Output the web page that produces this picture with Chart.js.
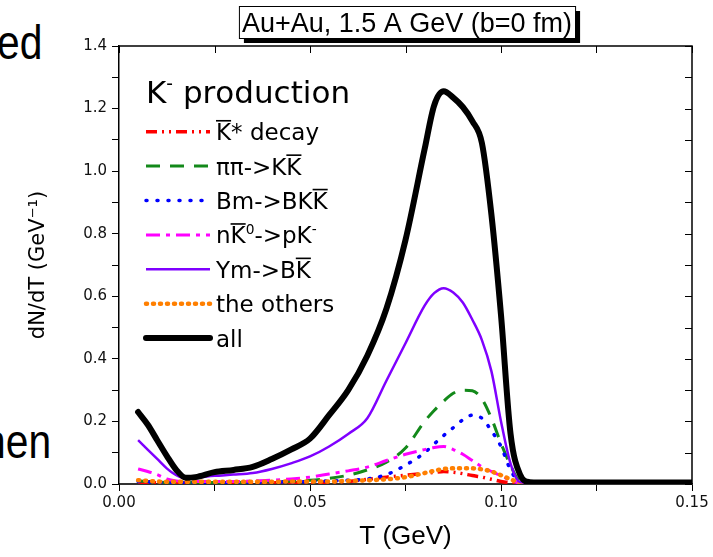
<!DOCTYPE html>
<html>
<head>
<meta charset="utf-8">
<script src="https://cdn.jsdelivr.net/npm/chart.js@4"></script>
<style>
    html, body { margin: 0; padding: 0; background: #fff; overflow: hidden; }
    #wrap { position: relative; width: 713px; height: 557px; }
    #chart { position: absolute; left: 0; top: 0; }
    .slide { position: absolute; font-family: "Liberation Sans", Arial, sans-serif; font-size: 48px; line-height: 1; color: #000;
             transform: scaleX(0.85); transform-origin: left top; white-space: nowrap; }
</style>
</head>
<body>
<div id="wrap">
    <div class="slide" style="left:-3px; top:19px;">ed</div>
    <div class="slide" style="left:-17px; top:418px;">hen</div>
    <canvas id="chart" width="713" height="557"></canvas>
</div>
<script>
// T values (GeV)
const tValues = [0.005, 0.0075, 0.01, 0.0125, 0.015, 0.0175, 0.02, 0.025, 0.03, 0.035,
    0.04, 0.045, 0.05, 0.055, 0.06, 0.065, 0.07, 0.075, 0.08, 0.0825,
    0.085, 0.0875, 0.09, 0.0925, 0.095, 0.0975, 0.1, 0.1025, 0.105, 0.1075,
    0.11, 0.12, 0.13, 0.14, 0.15];

// dN/dT (GeV^-1) per channel
const kStarDecay = [0.006, 0.005, 0.004, 0.004, 0.004, 0.004, 0.004, 0.004, 0.004, 0.004,
    0.004, 0.005, 0.005, 0.006, 0.008, 0.015, 0.022, 0.028, 0.034, 0.037,
    0.04, 0.038, 0.033, 0.027, 0.022, 0.015, 0.008, 0.004, 0.002, 0.002,
    0.002, 0.002, 0.002, 0.002, 0.002];
const pipiToKK = [0.01, 0.008, 0.006, 0.005, 0.005, 0.005, 0.005, 0.005, 0.005, 0.006,
    0.007, 0.009, 0.012, 0.018, 0.028, 0.045, 0.07, 0.115, 0.2, 0.235,
    0.265, 0.29, 0.3, 0.298, 0.272, 0.21, 0.13, 0.06, 0.008, 0.004,
    0.003, 0.003, 0.003, 0.003, 0.003];
const bmToBKK = [0.008, 0.007, 0.006, 0.005, 0.005, 0.005, 0.005, 0.005, 0.005, 0.005,
    0.006, 0.006, 0.008, 0.01, 0.012, 0.016, 0.03, 0.06, 0.1, 0.128,
    0.155, 0.18, 0.205, 0.22, 0.21, 0.17, 0.12, 0.045, 0.005, 0.003,
    0.003, 0.003, 0.003, 0.003, 0.003];
const nK0ToPK = [0.048, 0.04, 0.03, 0.016, 0.01, 0.008, 0.008, 0.008, 0.008, 0.01,
    0.012, 0.016, 0.022, 0.032, 0.042, 0.054, 0.075, 0.095, 0.11, 0.117,
    0.12, 0.11, 0.095, 0.075, 0.055, 0.04, 0.027, 0.012, 0.003, 0.002,
    0.002, 0.002, 0.002, 0.002, 0.002];
const ymToBK = [0.14, 0.11, 0.08, 0.05, 0.028, 0.018, 0.02, 0.026, 0.03, 0.035,
    0.048, 0.066, 0.088, 0.12, 0.16, 0.21, 0.33, 0.45, 0.57, 0.61,
    0.626, 0.612, 0.58, 0.525, 0.46, 0.36, 0.2, 0.065, 0.006, 0.004,
    0.004, 0.004, 0.004, 0.004, 0.004];
const theOthers = [0.012, 0.01, 0.008, 0.007, 0.007, 0.007, 0.007, 0.007, 0.007, 0.007,
    0.007, 0.008, 0.008, 0.008, 0.01, 0.012, 0.015, 0.022, 0.035, 0.042,
    0.048, 0.05, 0.05, 0.05, 0.047, 0.04, 0.028, 0.015, 0.004, 0.002,
    0.002, 0.002, 0.002, 0.002, 0.002];
const allChannels = [0.23, 0.19, 0.14, 0.09, 0.045, 0.02, 0.022, 0.038, 0.045, 0.055,
    0.08, 0.11, 0.145, 0.22, 0.30, 0.41, 0.56, 0.78, 1.07, 1.21,
    1.255, 1.235, 1.205, 1.16, 1.09, 0.86, 0.54, 0.16, 0.03, 0.006,
    0.005, 0.005, 0.005, 0.005, 0.005];

// legend names: "~X" = overlined X, "^X" = superscript X
const seriesNames = ['~K* decay', '\u03c0\u03c0->K~K', 'Bm->BK~K', 'n~K^0->pK^-', 'Ym->B~K', 'the others', 'all'];
const legendTitle = 'K^- production';
const plotTitle = 'Au+Au, 1.5 A GeV (b=0 fm)';

const FONT = '"Liberation Sans", Arial, sans-serif';
const WIDE = '"DejaVu Sans", sans-serif';

function plainName(s) {
    return s.replace(/~(.)/g, '$1\u0304').replace(/\^-/g, '\u207b').replace(/\^0/g, '\u2070');
}

function points(arr) {
    return tValues.map((t, i) => ({ x: t, y: arr[i] }));
}

// draw text with overlines and superscripts
function drawRich(ctx, str, x, y, size, family) {
    let i = 0;
    while (i < str.length) {
        let c = str[i], over = false, sup = false;
        if (c === '~') { over = true; c = str[++i]; }
        else if (c === '^') { sup = true; c = str[++i]; }
        i++;
        const fs = sup ? size * 0.6 : size;
        ctx.font = fs + 'px ' + family;
        const w = ctx.measureText(c).width;
        ctx.fillText(c, x, sup ? y - size * 0.42 : y);
        if (over) ctx.fillRect(x, y - size * 0.88, w, Math.max(1.5, size * 0.07));
        x += w;
    }
}

const frame = {
    id: 'frame',
    afterDraw(chart) {
        const { ctx, chartArea: a, scales: { x, y } } = chart;
        ctx.save();
        ctx.strokeStyle = '#000';
        ctx.lineWidth = 1.5;
        ctx.beginPath();
        ctx.moveTo(a.left, a.top);
        ctx.lineTo(a.right, a.top);
        ctx.lineTo(a.right, a.bottom);
        ctx.stroke();
        // mirrored ticks pointing inward
        ctx.lineWidth = 1;
        ctx.beginPath();
        x.ticks.forEach(t => {
            const p = Math.round(x.getPixelForValue(t.value)) + 0.5;
            ctx.moveTo(p, a.top); ctx.lineTo(p, a.top + 7);
        });
        y.ticks.forEach(t => {
            const p = Math.round(y.getPixelForValue(t.value)) + 0.5;
            ctx.moveTo(a.right, p); ctx.lineTo(a.right - 7, p);
        });
        ctx.stroke();
        ctx.restore();
    }
};

const titleBox = {
    id: 'titleBox',
    afterDraw(chart) {
        const ctx = chart.ctx;
        ctx.save();
        ctx.font = '27px ' + FONT;
        const w = ctx.measureText(plotTitle).width + 6;
        const cx = 407, top = 6, h = 32;
        const left = cx - w / 2;
        ctx.fillStyle = '#000';
        ctx.fillRect(left + 5, top + 5, w, h);
        ctx.fillStyle = '#fff';
        ctx.fillRect(left, top, w, h);
        ctx.strokeStyle = '#000';
        ctx.lineWidth = 1;
        ctx.strokeRect(left + 0.5, top + 0.5, w, h);
        ctx.fillStyle = '#000';
        ctx.textAlign = 'center';
        ctx.textBaseline = 'alphabetic';
        ctx.fillText(plotTitle, cx, top + 26);
        ctx.restore();
    }
};

const legendBox = {
    id: 'legendBox',
    afterDraw(chart) {
        const ctx = chart.ctx;
        ctx.save();
        ctx.fillStyle = '#000';
        ctx.textBaseline = 'alphabetic';
        drawRich(ctx, legendTitle, 146, 103, 31, WIDE);
        chart.data.datasets.forEach((ds, i) => {
            const yc = 131.7 + i * 34.4;
            ctx.save();
            ctx.strokeStyle = ds.borderColor;
            ctx.lineWidth = ds.borderWidth;
            ctx.lineCap = ds.borderCapStyle || 'butt';
            ctx.setLineDash(ds.borderDash || []);
            ctx.beginPath();
            ctx.moveTo(146, yc);
            ctx.lineTo(210, yc);
            ctx.stroke();
            ctx.restore();
            ctx.fillStyle = '#000';
            drawRich(ctx, seriesNames[i], 216, yc + 8.5, 23, WIDE);
        });
        ctx.restore();
    }
};

const styles = [
    { color: '#ff0000', width: 3.5, dash: [11, 5, 2, 5, 2, 5], cap: 'butt', order: 6 },
    { color: '#13891a', width: 3, dash: [14, 10], cap: 'butt', order: 5 },
    { color: '#0000ff', width: 3.5, dash: [1, 10], cap: 'round', order: 4 },
    { color: '#ff00ff', width: 3, dash: [14, 6, 4, 6], cap: 'butt', order: 3 },
    { color: '#7f00ff', width: 2.5, dash: [], cap: 'butt', order: 1 },
    { color: '#ff7f00', width: 4.5, dash: [1, 6], cap: 'round', order: 2 },
    { color: '#000000', width: 6, dash: [], cap: 'round', order: 0 }
];
const seriesData = [kStarDecay, pipiToKK, bmToBKK, nK0ToPK, ymToBK, theOthers, allChannels];

const datasets = seriesData.map((arr, i) => ({
    label: plainName(seriesNames[i]),
    data: points(arr),
    borderColor: styles[i].color,
    borderWidth: styles[i].width,
    borderDash: styles[i].dash,
    borderCapStyle: styles[i].cap,
    borderJoinStyle: 'round',
    order: styles[i].order,
    pointRadius: 0,
    fill: false,
    cubicInterpolationMode: 'monotone'
}));

const isMultiple = (v, step) => Math.abs(v / step - Math.round(v / step)) < 1e-6;

new Chart(document.getElementById('chart'), {
    type: 'line',
    data: { datasets },
    options: {
        responsive: false,
        animation: false,
        devicePixelRatio: 1,
        layout: { padding: { top: 46, right: 21, left: 0, bottom: 0 } },
        plugins: { legend: { display: false }, tooltip: { enabled: false }, title: { display: false } },
        scales: {
            x: {
                type: 'linear', min: 0, max: 0.15,
                afterFit: s => { s.height = 73; },
                ticks: {
                    stepSize: 0.025, autoSkip: false, maxRotation: 0, padding: 3,
                    color: '#111', font: { size: 15, family: WIDE },
                    callback: v => isMultiple(v, 0.05) ? v.toFixed(2) : ''
                },
                grid: { drawOnChartArea: false, drawTicks: true, tickLength: 7, tickColor: '#000', tickWidth: 1 },
                border: { color: '#333', width: 2 },
                title: { display: true, text: 'T (GeV)', color: '#000', font: { size: 26, family: FONT }, padding: { top: 0, bottom: 5 } }
            },
            y: {
                type: 'linear', min: 0, max: 1.4,
                afterFit: s => { s.width = 119; },
                ticks: {
                    stepSize: 0.1, autoSkip: false, padding: 5,
                    color: '#111', font: { size: 15, family: WIDE },
                    callback: v => isMultiple(v, 0.2) ? v.toFixed(1) : ''
                },
                grid: { drawOnChartArea: false, drawTicks: true, tickLength: 7, tickColor: '#000', tickWidth: 1 },
                border: { color: '#000', width: 1.5 },
                title: { display: true, text: 'dN/dT (GeV\u207b\u00b9)', color: '#000', font: { size: 21, family: WIDE }, padding: { top: 26, bottom: 0 } }
            }
        }
    },
    plugins: [frame, titleBox, legendBox]
});
</script>
</body>
</html>
